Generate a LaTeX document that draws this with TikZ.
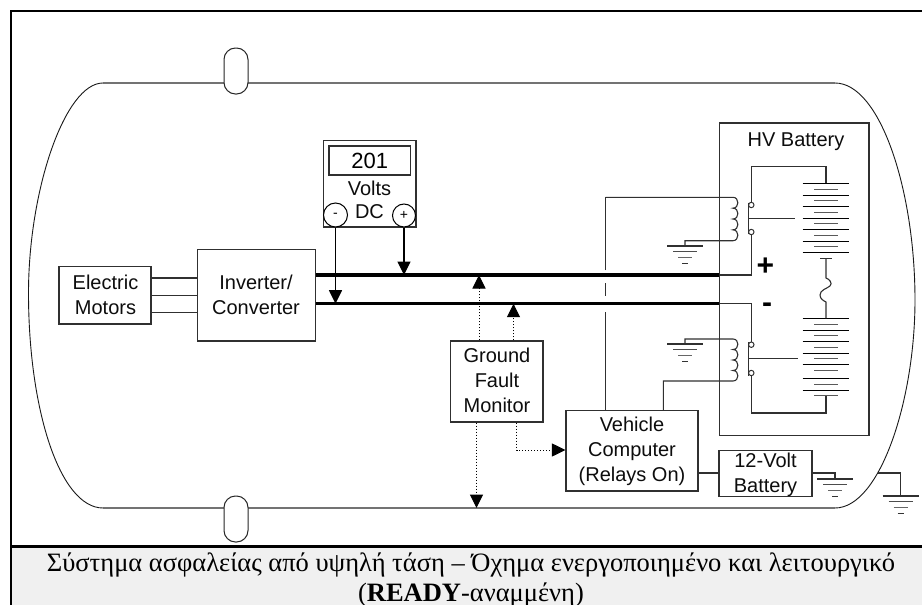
\documentclass[tikz,border=0pt]{standalone}
\usepackage{fontspec}
\setmainfont{Liberation Serif}
\newfontfamily\arialf{Liberation Sans}
\usetikzlibrary{arrows.meta}
\definecolor{capbg}{HTML}{F0F0F0}
\definecolor{wire}{HTML}{303030}
\tikzset{
  x=1pt,y=-1pt,
  frameline/.style={line width=2.4pt,black},
  body/.style={line width=1.1pt,black!55},
  bodycurve/.style={line width=0.9pt,black!90},
  pill/.style={draw=black!85,line width=1pt,fill=white,rounded corners=11.5pt},
  bx/.style={draw=wire,line width=1.1pt,fill=white,inner sep=0pt},
  lbl/.style={font=\arialf\fontsize{20}{25}\selectfont,align=center,inner sep=0pt,text=black!95},
  captext/.style={font=\fontsize{26.5}{30}\selectfont,anchor=base,inner sep=0pt,text=black},
  wirel/.style={line width=1.1pt,draw=wire},
  buswire/.style={line width=3.4pt,black},
  tipsolid/.style={-{Triangle[length=13.5pt,width=13pt]}},
  dots/.style={line width=1pt,dotted,black},
  contact/.style={circle,draw=wire,line width=1pt,fill=white,minimum size=5.4pt,inner sep=0pt},
  meterpin/.style={circle,draw=black,line width=1pt,fill=white,inner sep=0pt,font=\arialf\fontsize{14}{14}\selectfont},
  plate/.style={line width=1pt,black},
  gnd/.pic={
    \draw[wirel] (-18,0) -- (18,0);
    \draw[line width=1.1pt,black!70] (-12,5.8) -- (12,5.8);
    \draw[line width=1.1pt,black!60] (-7,11.6) -- (7,11.6);
    \draw[line width=1.1pt,black!80] (-3,17.4) -- (3,17.4);
  },
  batcell/.pic={
    \draw[plate] (-23.3,0) -- (23.3,0);
    \draw[line width=1pt,black!65] (-12,5.8) -- (12,5.8);
  },
}
\begin{document}
\begin{tikzpicture}
\useasboundingbox (0,0) rectangle (922,605);
\fill[white] (0,0) rectangle (922,605);
\fill[capbg] (11,546.5) rectangle (922,605);
\draw[frameline] (922,11) -- (11,11) -- (11,605);
\draw[frameline] (11,546.5) -- (922,546.5);

% vehicle body
\coordinate (bodyTL) at (103,83);
\coordinate (bodyTR) at (835,83);
\coordinate (bodyBL) at (103,508);
\coordinate (bodyBR) at (835,508);
\coordinate (chassis) at (878,473);
\draw[body] (bodyTL) -- (bodyTR);
\draw[body] (bodyBL) -- (bodyBR);
\draw[bodycurve] (bodyTL) .. controls (65,83) and (28.5,190) .. (28.5,293)
  .. controls (28.5,410) and (60,508) .. (bodyBL);
\draw[bodycurve] (bodyTR) .. controls (880,83) and (915,190) .. (915,300)
  .. controls (915,400) and (880,508) .. (bodyBR);
\node[pill,minimum width=24pt,minimum height=46pt,inner sep=0pt] (pillT) at (236,71) {};
\node[pill,minimum width=24pt,minimum height=46pt,inner sep=0pt] (pillB) at (236,519) {};

% HV battery box
\node[bx,minimum width=149.5pt,minimum height=312.7pt] (hv) at (794.2,279.3) {};
\node[lbl] (hvt) at (796,141.7) {HV Battery};

% boxes
\node[bx,minimum width=92pt,minimum height=57.3pt] (motors) at (105,295.3) {};
\node[lbl] (motorst) at (105.5,294.5) {Electric\\Motors};
\node[bx,minimum width=118.2pt,minimum height=91.5pt] (inv) at (256.4,295.2) {};
\node[lbl] (invt) at (256,294.5) {Inverter/\\Converter};
\node[bx,minimum width=92.5pt,minimum height=86.5pt] (meter) at (369.7,183.7) {};
\node[bx,minimum width=81.5pt,minimum height=29pt,font=\arialf\fontsize{22}{22}\selectfont] (disp) at (369.7,160.5) {201};
\node[lbl] (volts) at (369.5,188.5) {Volts};
\node[lbl] (dc) at (369.5,212) {DC};
\node[meterpin,minimum size=24pt] (pinm) at (335.5,215) {-};
\node[meterpin,minimum size=23pt] (pinp) at (404,215.5) {+};
\node[bx,minimum width=92.5pt,minimum height=81pt] (gfm) at (496.7,381.5) {};
\node[lbl] (gfmt) at (497,380.5) {Ground\\Fault\\Monitor};
\node[bx,minimum width=132pt,minimum height=80.5pt] (vc) at (632,450.7) {};
\node[lbl] (vct) at (632,451) {Vehicle\\Computer\\(Relays On)};
\node[bx,minimum width=93pt,minimum height=46pt] (bat12) at (765.5,473.5) {};
\node[lbl] (bat12t) at (765.5,474.5) {12-Volt\\Battery};

% bus lines
\coordinate (busAl) at (inv.east |- 0,275);
\coordinate (busAr) at (hv.west |- 0,275);
\coordinate (busBl) at (inv.east |- 0,303.7);
\coordinate (busBr) at (hv.west |- 0,303.7);
\draw[buswire] (busAl) -- (busAr);
\draw[buswire] (busBl) -- (busBr);

% motors to inverter
\foreach \yy in {278,295.5,312.7}
  \draw[wirel] (motors.east |- 0,\yy) -- (inv.west |- 0,\yy);

% meter arrows
\draw[line width=1.1pt,black,tipsolid] (pinm.south) -- (pinm.south |- busBl);
\draw[line width=1.1pt,black,tipsolid] (pinp.south) -- (pinp.south |- busAl);

% monitor dotted links
\draw[dots,tipsolid] (gfm.north -| 479,0) -- (479,0 |- busAl);
\draw[dots,tipsolid] (gfm.north -| 513.5,0) -- (513.5,0 |- busBl);
\draw[dots,tipsolid] (gfm.south -| 476.5,0) -- (476.5,0 |- bodyBL);
\draw[dots,tipsolid] (gfm.south -| 516.5,0) -- (516.5,450) -- (vc.west |- 0,450);

% computer relay feed (broken where it jumps the bus)
\coordinate (feedT) at (605.5,197.3);
\draw[wirel] (vc.north -| feedT) -- (605.5,312);
\draw[wirel] (605.5,295.7) -- (605.5,283);
\draw[wirel] (605.5,270) -- (feedT);

% upper coil
\draw[wirel] (feedT) -- (733,197.3)
  \foreach \k in {1,2,3,4} { .. controls +(6.5,0) and +(6.5,0) .. ++(0,10.85) }
  -- (685,240.7) -- (685,246);
\pic at (685,246) {gnd};
% lower coil
\draw[wirel] (685,344) -- (685,339) -- (733,339)
  \foreach \k in {1,2,3,4} { .. controls +(6.5,0) and +(6.5,0) .. ++(0,10.5) }
  -- (663.3,381) -- (vc.north -| 663.3,0);
\pic at (685,344) {gnd};

% relay contacts
\node[contact] (c1) at (751.3,205) {};
\node[contact] (c2) at (751.3,232) {};
\node[contact] (c3) at (751.3,344.7) {};
\node[contact] (c4) at (751.3,373) {};
\draw[wirel] (c1.north) -- (751.3,166.5) -- (826,166.5) -- (826,183.3);
\draw[wirel] (c2.south) -- (751.3,275) -- (busAr);
\draw[wirel] (c3.north) -- (751.3,303.7) -- (busBr);
\draw[wirel] (c4.south) -- (751.3,413) -- (826,413) -- (826,396);
\draw[wirel] (748.5,203) -- (748.5,234);
\draw[wirel] (748.5,218.3) -- (794.5,218.3);
\draw[wirel] (748.5,342) -- (748.5,376);
\draw[wirel] (748.5,358.7) -- (798,358.7);

% battery strings
\foreach \yy in {183.3,195,206.3,218,229.3,241} \pic at (826,\yy) {batcell};
\draw[plate] (802.7,252.3) -- (849.3,252.3);
\foreach \yy in {318.3,330,341.3,353,364.3} \pic at (826,\yy) {batcell};
\foreach \yy in {378.7,390} \pic at (826,\yy) {batcell};
\draw[wirel] (820,258.3) -- (832,258.3);
\draw[wirel] (826,258.3) -- (826,278)
  .. controls (829,279) and (833,283) .. (830,286)
  .. controls (827,288.5) and (820,290) .. (820,295)
  .. controls (820,299) and (824,301) .. (826,302)
  -- (826,318.3);

\node[font=\arialf\bfseries\fontsize{30}{30}\selectfont,inner sep=0pt] (plus) at (765.5,267) {+};
\node[font=\arialf\bfseries\fontsize{30}{30}\selectfont,inner sep=0pt] (minus) at (767,308) {-};

% 12-volt and chassis grounds
\draw[wirel] (vc.east |- 0,473) -- (bat12.west |- 0,473);
\draw[wirel] (bat12.east |- 0,473) -- (835,473) -- (835,479);
\pic at (835,479) {gnd};
\draw[wirel] (chassis) -- (900.7,473) -- (900.7,496);
\pic at (900.7,496) {gnd};

% caption
\node[captext] (cap1) at (471,571.7)
 {Σύστημα ασφαλείας από υψηλή τάση – Όχημα ενεργοποιημένο και λειτουργικό};
\node[captext] (cap2) at (471,601.7) {(\textbf{READY}-αναμμένη)};
\end{tikzpicture}
\end{document}
